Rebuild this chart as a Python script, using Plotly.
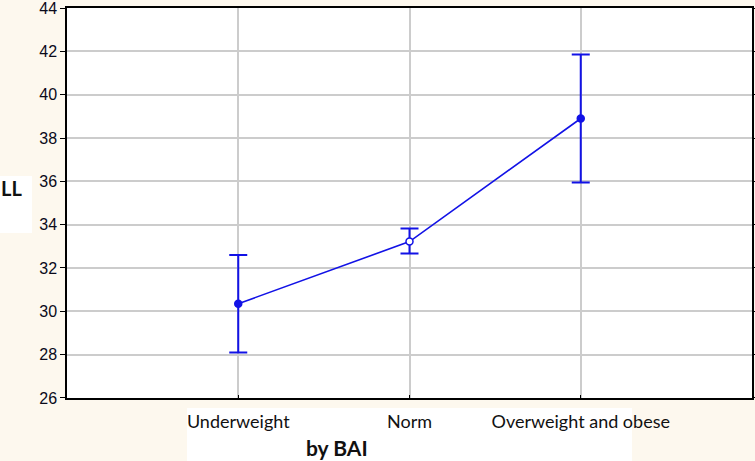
import plotly.graph_objects as go

categories = ["Underweight", "Norm", "Overweight and obese"]
means = [30.35, 33.22, 38.90]
err_upper = [2.25, 0.60, 2.95]
err_lower = [2.25, 0.55, 2.95]
y_ticks = [26, 28, 30, 32, 34, 36, 38, 40, 42, 44]
x_pos = [1, 2, 3]

BLUE = "#1212e6"

fig = go.Figure()
fig.add_trace(go.Scatter(
    x=x_pos, y=means, mode="lines+markers",
    line=dict(color=BLUE, width=1.6),
    marker=dict(size=7, color=[BLUE, "white", BLUE], line=dict(color=BLUE, width=1.5)),
    error_y=dict(type="data", symmetric=False, array=err_upper, arrayminus=err_lower,
                 color=BLUE, thickness=2, width=9),
    showlegend=False,
))

fig.update_layout(
    width=755, height=461,
    margin=dict(l=67, r=3, t=8, b=63, autoexpand=False),
    paper_bgcolor="#fdf8ee",
    plot_bgcolor="white",
    xaxis=dict(
        range=[0, 4], tickvals=x_pos, ticktext=categories,
        showgrid=True, gridcolor="#cccccc", gridwidth=1.5,
        showline=True, linecolor="black", linewidth=1.5, mirror=True,
        ticks="inside", ticklen=3, tickcolor="black",
        tickfont=dict(family="Lato, sans-serif", size=18, color="#111111"),
        ticklabelstandoff=7, zeroline=False, automargin=False,
    ),
    yaxis=dict(
        range=[25.999, 44.001], tickvals=y_ticks,
        showgrid=True, gridcolor="#cccccc", gridwidth=1.5,
        showline=True, linecolor="black", linewidth=1.5, mirror="ticks",
        ticks="outside", ticklen=5, tickcolor="black",
        tickfont=dict(family="Liberation Sans, Arial, sans-serif", size=16, color="#0a0a1a"),
        ticklabeloverflow="allow", automargin=False,
        zeroline=False,
    ),
    shapes=[
        dict(type="rect", xref="paper", yref="paper", x0=(187-67)/685, x1=(632-67)/685,
             y0=-63/390, y1=-10/390, fillcolor="white", line=dict(width=0), layer="below"),
        dict(type="rect", xref="paper", yref="paper", x0=-67/685, x1=(32-67)/685,
             y0=(398-233)/390, y1=(398-176)/390, fillcolor="white", line=dict(width=0), layer="below"),
    ],
    annotations=[
        dict(text="<b>by BAI</b>", xref="paper", yref="paper", x=(337-67)/685, y=(398-447)/390,
             showarrow=False, xanchor="center", yanchor="middle",
             font=dict(family="Lato, sans-serif", size=21, color="#111111")),
        dict(text="<b>LL</b>", xref="paper", yref="paper", x=(-1-67)/685, y=(398-188)/390,
             showarrow=False, xanchor="left", yanchor="middle",
             font=dict(family="Lato, sans-serif", size=20, color="#111111")),
    ],
)

fig.write_html("out.html")
